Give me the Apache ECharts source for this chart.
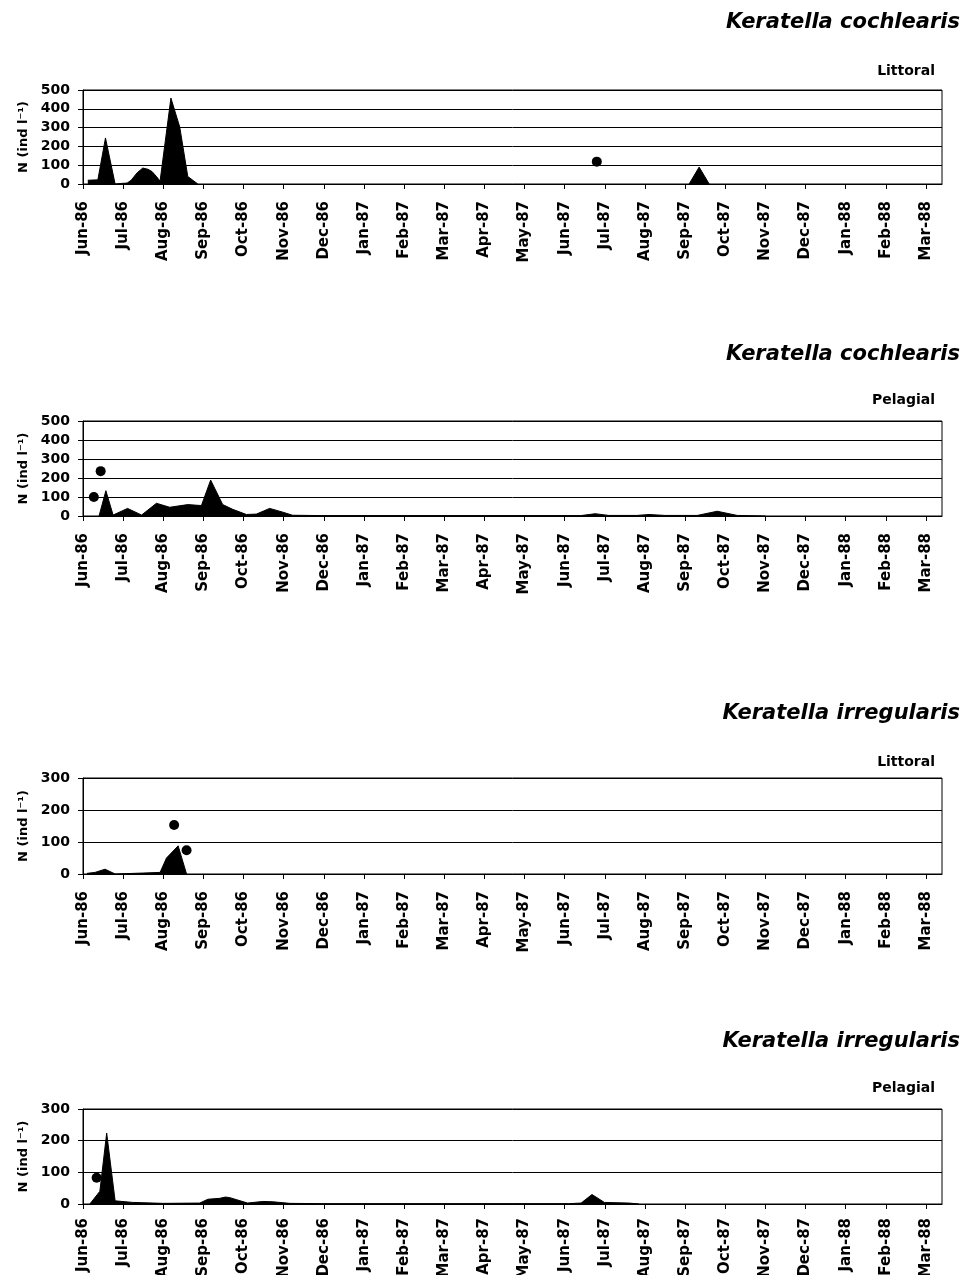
<!DOCTYPE html>
<html>
<head>
<meta charset="utf-8">
<script src="https://cdn.jsdelivr.net/npm/echarts@6/dist/echarts.min.js"></script>
<style>
  html, body { margin: 0; padding: 0; background: #fff; }
  #chart { width: 965px; height: 1275px; }
</style>
</head>
<body>
<div id="chart"></div>
<script>
// Month tick labels; x values are months counted from 1 June 1986
const monthLabels = ['Jun-86','Jul-86','Aug-86','Sep-86','Oct-86','Nov-86','Dec-86',
  'Jan-87','Feb-87','Mar-87','Apr-87','May-87','Jun-87','Jul-87','Aug-87','Sep-87',
  'Oct-87','Nov-87','Dec-87','Jan-88','Feb-88','Mar-88'];

const speciesNames = ['Keratella cochlearis', 'Keratella cochlearis', 'Keratella irregularis', 'Keratella irregularis'];
const habitatNames = ['Littoral', 'Pelagial', 'Littoral', 'Pelagial'];
const yMaxValues = [500, 500, 300, 300];

// Keratella cochlearis, littoral (ind/l)
const cochLitArea = [[0.12,20],[0.37,22],[0.56,245],[0.8,0],[0.95,3],[1.1,5],[1.2,20],[1.35,60],
  [1.49,85],[1.62,78],[1.72,66],[1.83,40],[1.92,15],[2.19,457],[2.41,303],[2.61,40],[2.86,0],
  [3.2,null],[15.1,0],[15.35,90],[15.6,0]];
const cochLitDots = [[12.8,119]];

// Keratella cochlearis, pelagial
const cochPelArea = [[0.4,0],[0.57,133],[0.75,5],[1.11,40],[1.46,5],[1.83,67],[2.16,46],[2.61,60],
  [2.95,55],[3.18,189],[3.48,60],[3.73,35],[4.07,8],[4.32,10],[4.65,40],[4.98,20],[5.22,4],
  [6,2],[8,2],[10,2],[12.4,2],[12.76,12],[13.1,3],[13.8,3],[14.1,8],[14.5,3],[15.3,3],
  [15.8,25],[16.3,3],[17,0]];
const cochPelDots = [[0.27,100],[0.44,236]];

// Keratella irregularis, littoral
const irrLitArea = [[0.1,2],[0.3,5],[0.55,15],[0.8,0],[1.5,3],[1.92,5],[2.08,50],[2.37,88],[2.58,0]];
const irrLitDots = [[2.27,153],[2.58,74]];

// Keratella irregularis, pelagial
const irrPelArea = [[0.17,0],[0.42,40],[0.59,224],[0.8,10],[1.24,5],[2.0,2],[2.91,3],[3.11,15],
  [3.41,18],[3.55,22],[3.66,20],[4.1,3],[4.48,8],[4.73,7],[5.15,2],[6,1],[12.1,1],[12.41,3],
  [12.68,30],[12.99,5],[13.6,3],[13.85,0]];
const irrPelDots = [[0.34,83]];

const areaData = [cochLitArea, cochPelArea, irrLitArea, irrPelArea];
const dotData = [cochLitDots, cochPelDots, irrLitDots, irrPelDots];

// Panel layout (pixels)
const layout = [
  { top: 90,   height: 94, titleY: 23,   habitatY: 71,   labelMargin: 17 },
  { top: 421,  height: 95, titleY: 355,  habitatY: 400,  labelMargin: 17 },
  { top: 778,  height: 96, titleY: 714,  habitatY: 762,  labelMargin: 17 },
  { top: 1109, height: 95, titleY: 1042, habitatY: 1088, labelMargin: 14 }
];

const FONT = '"DejaVu Sans", "Liberation Sans", Arial, sans-serif';
const chart = echarts.init(document.getElementById('chart'), null, { renderer: 'canvas' });

const grids = layout.map(p => ({
  left: 83, right: 23, top: p.top, height: p.height,
  containLabel: false, outerBoundsMode: 'none',
  show: true, borderColor: '#000', borderWidth: 1, backgroundColor: 'transparent'
}));

const xAxes = layout.map((p, i) => ({
  type: 'value', gridIndex: i, min: 0, max: 21.4, interval: 1,
  axisLine: { show: true, onZero: false, lineStyle: { color: '#000', width: 1 } },
  axisTick: { show: true, length: 5, lineStyle: { color: '#000', width: 1 } },
  splitLine: { show: false },
  axisLabel: {
    rotate: 90, margin: p.labelMargin, color: '#000', fontFamily: FONT, fontWeight: 'bold', fontSize: 15,
    showMaxLabel: false,
    formatter: v => {
      const r = Math.round(v);
      return Math.abs(v - r) < 1e-6 && monthLabels[r] ? monthLabels[r] : '';
    }
  }
}));

const yAxes = layout.map((p, i) => ({
  type: 'value', gridIndex: i, min: 0, max: yMaxValues[i], interval: 100,
  name: 'N (ind l\u207B\u00B9)', nameLocation: 'middle', nameGap: 53, nameRotate: 90,
  nameTextStyle: { color: '#000', fontFamily: FONT, fontWeight: 'bold', fontSize: 13 },
  axisLine: { show: true, lineStyle: { color: '#000', width: 1 } },
  axisTick: { show: true, length: 5, lineStyle: { color: '#000', width: 1 } },
  splitLine: { show: true, lineStyle: { color: '#000', width: 1 } },
  axisLabel: { margin: 13, color: '#000', fontFamily: FONT, fontWeight: 'bold', fontSize: 14 }
}));

const series = [];
areaData.forEach((d, i) => {
  series.push({
    type: 'line', xAxisIndex: i, yAxisIndex: i, data: d,
    symbol: 'none', showSymbol: false, connectNulls: false, smooth: false,
    lineStyle: { color: '#000', width: 1 },
    areaStyle: { color: '#000', opacity: 1 },
    silent: true, z: 3
  });
});
dotData.forEach((d, i) => {
  series.push({
    type: 'scatter', xAxisIndex: i, yAxisIndex: i, data: d,
    symbol: 'circle', symbolSize: 10, itemStyle: { color: '#000', opacity: 1 },
    silent: true, z: 4
  });
});

const graphics = [];
layout.forEach((p, i) => {
  graphics.push({
    type: 'text', z: 10,
    style: {
      text: speciesNames[i], x: 960, y: p.titleY, fill: '#000',
      font: 'italic bold 21px ' + FONT, align: 'right', verticalAlign: 'middle'
    }
  });
  graphics.push({
    type: 'text', z: 10,
    style: {
      text: habitatNames[i], x: 935, y: p.habitatY, fill: '#000',
      font: 'bold 14px ' + FONT, align: 'right', verticalAlign: 'middle'
    }
  });
});

chart.setOption({
  animation: false,
  backgroundColor: '#fff',
  grid: grids,
  xAxis: xAxes,
  yAxis: yAxes,
  series: series,
  graphic: graphics
});
</script>
</body>
</html>
